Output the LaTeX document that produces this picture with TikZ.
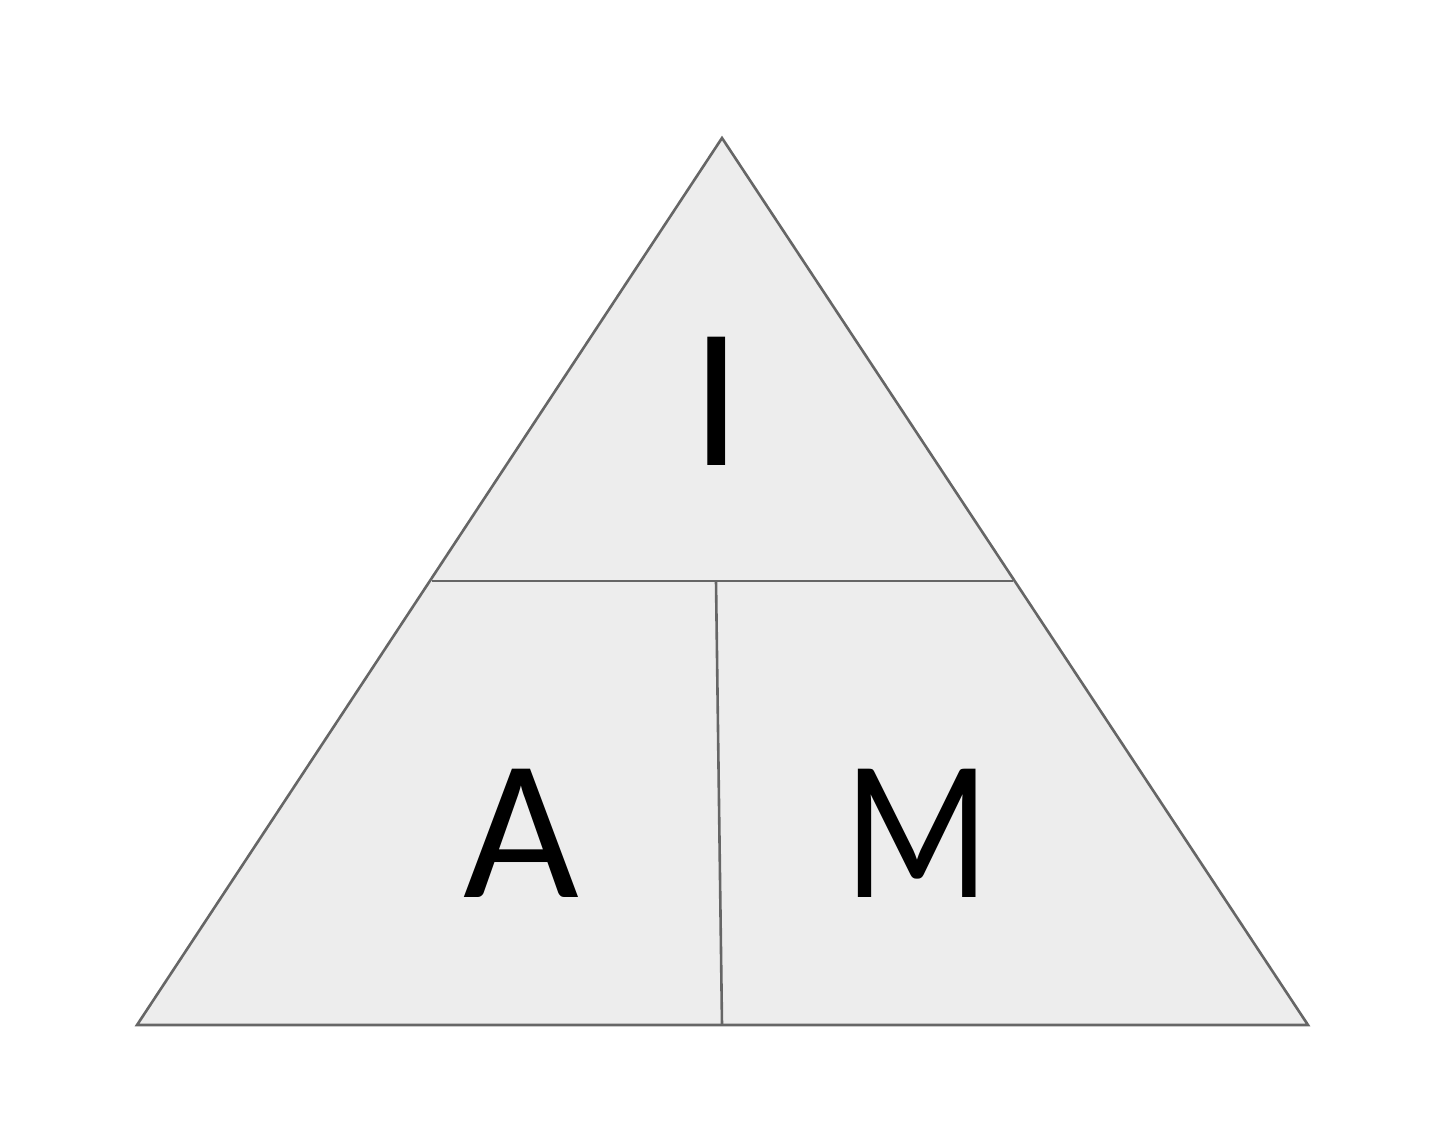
\documentclass[tikz,border=0pt]{standalone}
\usepackage{fontspec}
\setmainfont{Carlito}
\definecolor{fillg}{HTML}{EDEDED}
\definecolor{lineg}{HTML}{666666}
\begin{document}
\begin{tikzpicture}[x=1pt,y=-1pt,
  edge/.style={draw=lineg,line width=2.6pt},
  letter/.style={inner sep=0pt,anchor=base,font=\fontsize{200}{200}\selectfont,text=black}]
\useasboundingbox (0,0) rectangle (1440,1131);
\coordinate (top) at (722,138);
\coordinate (bl) at (137,1025);
\coordinate (br) at (1308,1025);
\coordinate (ml) at (432,581);
\coordinate (mr) at (1013,581);
\coordinate (vt) at (716,581);
\coordinate (vb) at (722,1025);
\fill[fillg] (top) -- (br) -- (bl) -- cycle;
\draw[edge,line join=miter] (top) -- (br) -- (bl) -- cycle;
\draw[edge] (ml) -- (mr);
\draw[edge] (vt) -- (vb);
\node[letter] (I) at (717,465) {I};
\node[letter] (A) at (521,897) {A};
\node[letter] (M) at (917,897) {\scalebox{0.85}[1]{M}};
\end{tikzpicture}
\end{document}
